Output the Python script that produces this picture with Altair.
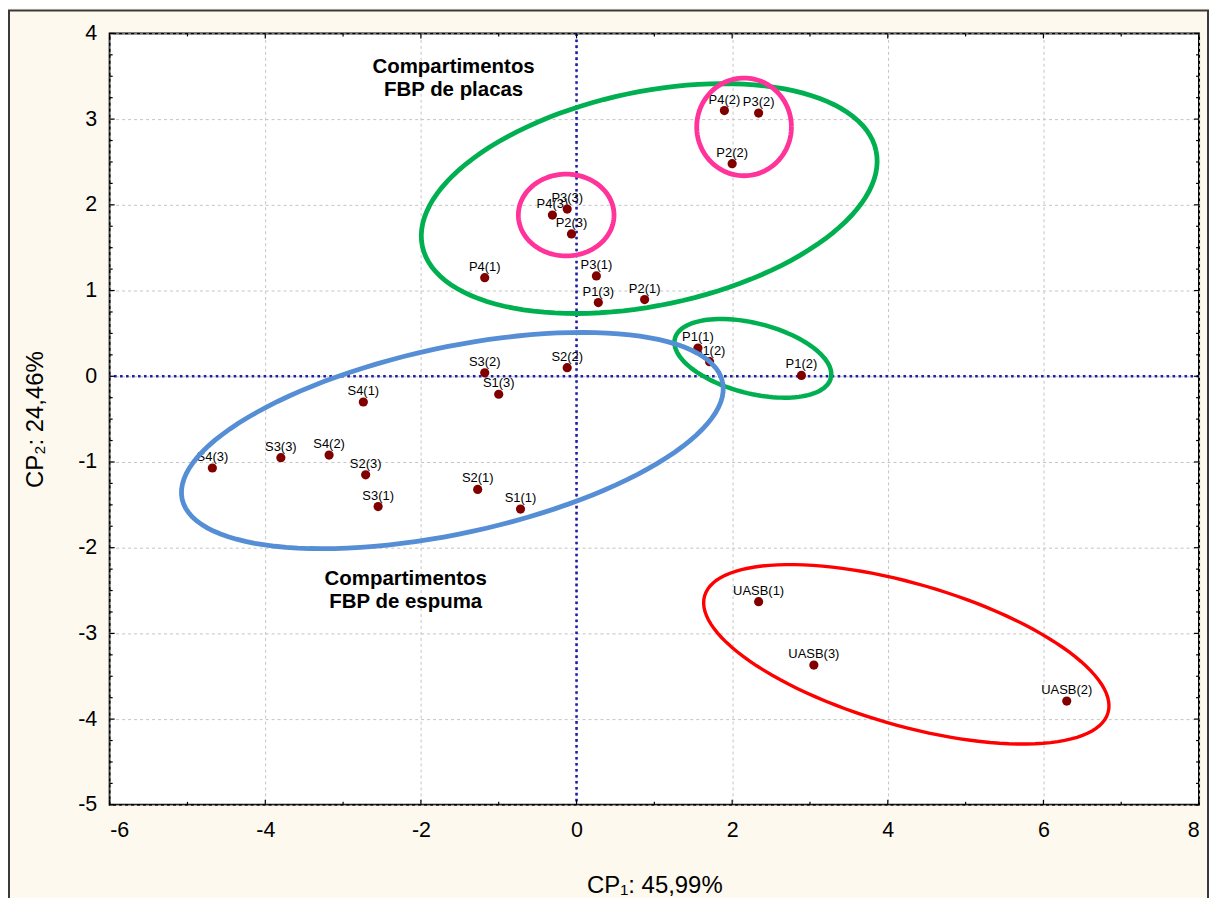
import math
import altair as alt
import pandas as pd

# ---------------- data ----------------
labels = ["P4(2)", "P3(2)", "P2(2)", "P3(3)", "P4(3)", "P2(3)", "P4(1)", "P3(1)", "P1(3)", "P2(1)",
          "P1(1)", "S1(2)", "P1(2)",
          "S3(2)", "S2(2)", "S1(3)", "S4(1)", "S4(3)", "S3(3)", "S4(2)", "S2(3)", "S3(1)", "S2(1)", "S1(1)",
          "UASB(1)", "UASB(3)", "UASB(2)"]
cp1 = [1.90, 2.34, 2.00, -0.12, -0.31, -0.065, -1.18, 0.255, 0.28, 0.875,
       1.56, 1.71, 2.89,
       -1.18, -0.12, -1.00, -2.74, -4.68, -3.80, -3.18, -2.71, -2.55, -1.27, -0.72,
       2.34, 3.05, 6.30]
cp2 = [3.10, 3.07, 2.48, 1.95, 1.88, 1.66, 1.15, 1.17, 0.86, 0.895,
       0.33, 0.17, 0.01,
       0.04, 0.10, -0.21, -0.30, -1.07, -0.95, -0.92, -1.15, -1.52, -1.32, -1.55,
       -2.63, -3.37, -3.79]

x_major = [-6, -4, -2, 0, 2, 4, 6, 8]
x_minor = [-5, -3, -1, 1, 3, 5, 7]
y_major = [-5, -4, -3, -2, -1, 0, 1, 2, 3, 4]
y_minor = [v + q for v in range(-5, 4) for q in (0.25, 0.5, 0.75)]

notes = ["Compartimentos\nFBP de placas", "Compartimentos\nFBP de espuma"]
note_x = [-1.58, -2.195]
note_y = [3.538, -2.43]

# grouping ellipses: centre (data units), semi-axes (screen px), rotation (deg)
ell_cx = [0.934, 2.266, -1.596, 4.238, 2.153, -0.133]
ell_cy = [2.073, 0.209, -0.750, -3.244, 2.909, 1.881]
ell_a = [232.6, 80.7, 277.4, 210.7, 47.5, 48.0]
ell_b = [107.2, 35.2, 93.3, 71.1, 49.0, 41.0]
ell_rot = [11.87, -14.25, 12.24, -16.16, 0.0, 0.0]
ell_color = ["#00b050", "#00b050", "#558ed5", "#ff0000", "#ff3399", "#ff3399"]
ell_width = [4.8, 4.5, 4.8, 3.4, 4.8, 4.8]

W, H = 1093, 774
XMIN, XMAX, YMIN, YMAX = -6, 8, -5, 4
PX = W / (XMAX - XMIN)
PY = H / (YMAX - YMIN)

FONT = "Liberation Sans"
xs = alt.Scale(domain=[XMIN, XMAX], nice=False, zero=False)
ys = alt.Scale(domain=[YMIN, YMAX], nice=False, zero=False)

axX = alt.Axis(
    title="CP\u2081: 45,99%", values=x_major, grid=True, ticks=False, domain=False,
    labelExpr="'' + datum.value",
    labelFontSize=21.5, labelPadding=15, labelFont=FONT, labelColor="black",
    titleFont=FONT, titleFontSize=24, titleFontWeight="normal", titleColor="black",
    titleY=88, titleBaseline="alphabetic",
    gridColor="#c4c4c4", gridDash=[3, 3], gridWidth=1)
axY = alt.Axis(
    title="CP\u2082: 24,46%", values=y_major, grid=True, ticks=False, domain=False,
    labelExpr="'' + datum.value",
    labelFontSize=21.5, labelPadding=13, labelFont=FONT, labelColor="black",
    titleFont=FONT, titleFontSize=24, titleFontWeight="normal", titleColor="black",
    titleX=-67, titleBaseline="alphabetic",
    gridColor="#c4c4c4", gridDash=[3, 3], gridWidth=1)

def X(field):
    return alt.X(field, scale=xs, axis=axX)

def Y(field):
    return alt.Y(field, scale=ys, axis=axY)

pts = pd.DataFrame({"cp1": cp1, "cp2": cp2, "lab": labels})
base_pts = alt.Chart(pts).encode(x=X("cp1:Q"), y=Y("cp2:Q"))

layers = []

# zero reference lines
zx = alt.Chart(pd.DataFrame({"v": [0]})).mark_rule(
    color="#1e1ea8", strokeWidth=2.6, strokeDash=[2.6, 3.4]).encode(x=X("v:Q"))
zy = alt.Chart(pd.DataFrame({"v": [0]})).mark_rule(
    color="#1e1ea8", strokeWidth=2.6, strokeDash=[2.6, 3.4]).encode(y=Y("v:Q"))
layers += [zx, zy]

# inward ticks on all four sides
def xticks(vals, L):
    d = pd.DataFrame({"v": vals})
    bot = alt.Chart(d).mark_rule(color="black", strokeWidth=1.2).encode(
        x=X("v:Q"), y=alt.value(H), y2=alt.value(H - L))
    top = alt.Chart(d).mark_rule(color="black", strokeWidth=1.2).encode(
        x=X("v:Q"), y=alt.value(0), y2=alt.value(L))
    return [bot, top]

def yticks(vals, L):
    d = pd.DataFrame({"v": vals})
    lef = alt.Chart(d).mark_rule(color="black", strokeWidth=1.2).encode(
        y=Y("v:Q"), x=alt.value(0), x2=alt.value(L))
    rig = alt.Chart(d).mark_rule(color="black", strokeWidth=1.2).encode(
        y=Y("v:Q"), x=alt.value(W), x2=alt.value(W - L))
    return [lef, rig]

layers += xticks(x_major, 5) + xticks(x_minor, 3) + yticks(y_major, 5) + yticks(y_minor, 3)

# point labels, then points
layers.append(base_pts.mark_text(font=FONT, fontSize=13, color="black",
                                 baseline="alphabetic", dy=-7).encode(text="lab:N"))
layers.append(base_pts.mark_circle(size=85, color="#800000", opacity=1))

# ellipses
for i in range(len(ell_cx)):
    th = math.radians(ell_rot[i])
    rows = []
    n = 120
    for k in range(n + 1):
        t = 2 * math.pi * k / n
        ex, ey = ell_a[i] * math.cos(t), ell_b[i] * math.sin(t)
        dx = ex * math.cos(th) - ey * math.sin(th)
        dy = ex * math.sin(th) + ey * math.cos(th)
        rows.append({"x": ell_cx[i] + dx / PX, "y": ell_cy[i] + dy / PY, "k": k})
    layers.append(alt.Chart(pd.DataFrame(rows)).mark_line(
        color=ell_color[i], strokeWidth=ell_width[i]).encode(
        x=X("x:Q"), y=Y("y:Q"), order="k:Q"))

# group annotations
nd = pd.DataFrame({"x": note_x, "y": note_y, "t": notes})
layers.append(alt.Chart(nd).mark_text(font=FONT, fontSize=20.5, fontWeight="bold", color="black",
                                      baseline="alphabetic", align="center", lineBreak="\n",
                                      lineHeight=23.5).encode(
    x=X("x:Q"), y=Y("y:Q"), text="t:N"))

# outer frame
layers.append(alt.Chart(pd.DataFrame({"a": [0]})).mark_rect(
    filled=False, stroke="#3a3a3a", strokeWidth=2).encode(
    x=alt.value(-101), x2=alt.value(W + 9), y=alt.value(-23), y2=alt.value(H + 120)))

chart = alt.layer(*layers).properties(
    width=W, height=H,
    autosize=alt.AutoSizeParams(type="none"),
    padding={"left": 102, "top": 24, "right": 10, "bottom": 92},
).configure(background="#fdf9ee").configure_view(fill="white", stroke="black", strokeWidth=2)

chart.save("out.html", embed_options={"renderer": "svg", "actions": False})
